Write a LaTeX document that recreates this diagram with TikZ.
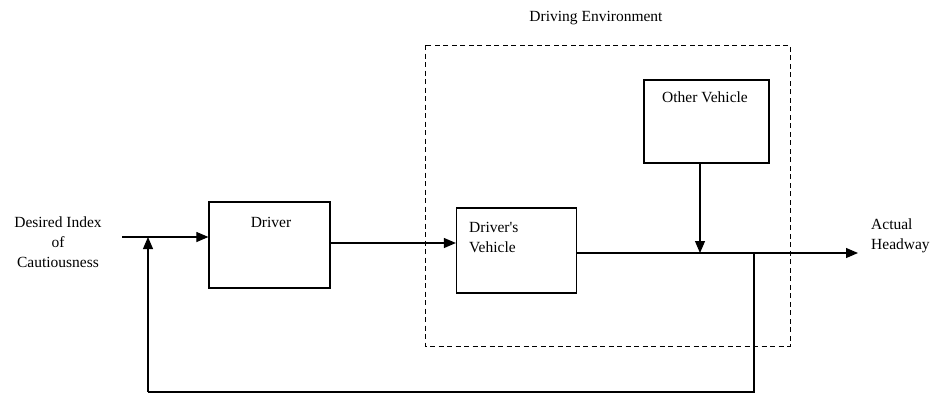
\documentclass[tikz,border=0pt]{standalone}
\usepackage{fontspec}
\setmainfont{Liberation Serif}
\usetikzlibrary{arrows.meta}
\begin{document}
\begin{tikzpicture}[x=1pt,y=-1pt,
  arr/.style={-{Triangle[length=12pt,width=10pt]},line width=1.1pt},
  ln/.style={line width=1.1pt},
  box/.style={draw,line width=1.2pt,inner sep=0pt},
  lbl/.style={font=\fontsize{15.5}{20}\selectfont,inner sep=0pt}]
\useasboundingbox (0,0) rectangle (935,400);
% dashed environment
\draw[line width=1pt,dash pattern=on 5pt off 3.5pt] (425,45) rectangle (790,346);
\node[lbl] (env) at (596,18) {Driving Environment};
% blocks
\node[box,minimum width=121pt,minimum height=86pt] (drv) at (269.5,245) {};
\node[lbl] (drvt) at (271,222) {Driver};
\node[box,minimum width=120pt,minimum height=85pt] (dv) at (516.5,250.5) {};
\node[lbl,align=left,anchor=west] (dvt) at (469,237) {Driver\textquotesingle s\\Vehicle};
\node[box,minimum width=125pt,minimum height=83pt] (ov) at (706.5,121.5) {};
\node[lbl] (ovt) at (705,97) {Other Vehicle};
% labels
\node[lbl,align=center] (in) at (58,242) {Desired Index\\of\\Cautiousness};
\node[lbl,align=left,anchor=west] (out) at (871,236) {Actual\\Headway};
% coordinates
\coordinate (s) at (122,237);
\coordinate (sum) at (148,237);
\coordinate (j) at (700,253);
\coordinate (tap) at (754,253);
\coordinate (end) at (858,253);
\coordinate (bot) at (754,392);
\coordinate (botl) at (148,392);
% connectors
\draw[arr] (s) -- (drv.west |- s);
\draw[arr] (drv.east |- 0,243) -- (dv.west |- 0,243);
\draw[arr] (dv.east |- j) -- (end);
\draw[arr] (ov.south -| j) -- (j);
\draw[ln] (tap) -- (bot) -- (botl);
\draw[arr] (botl) -- (sum);
\end{tikzpicture}
\end{document}
